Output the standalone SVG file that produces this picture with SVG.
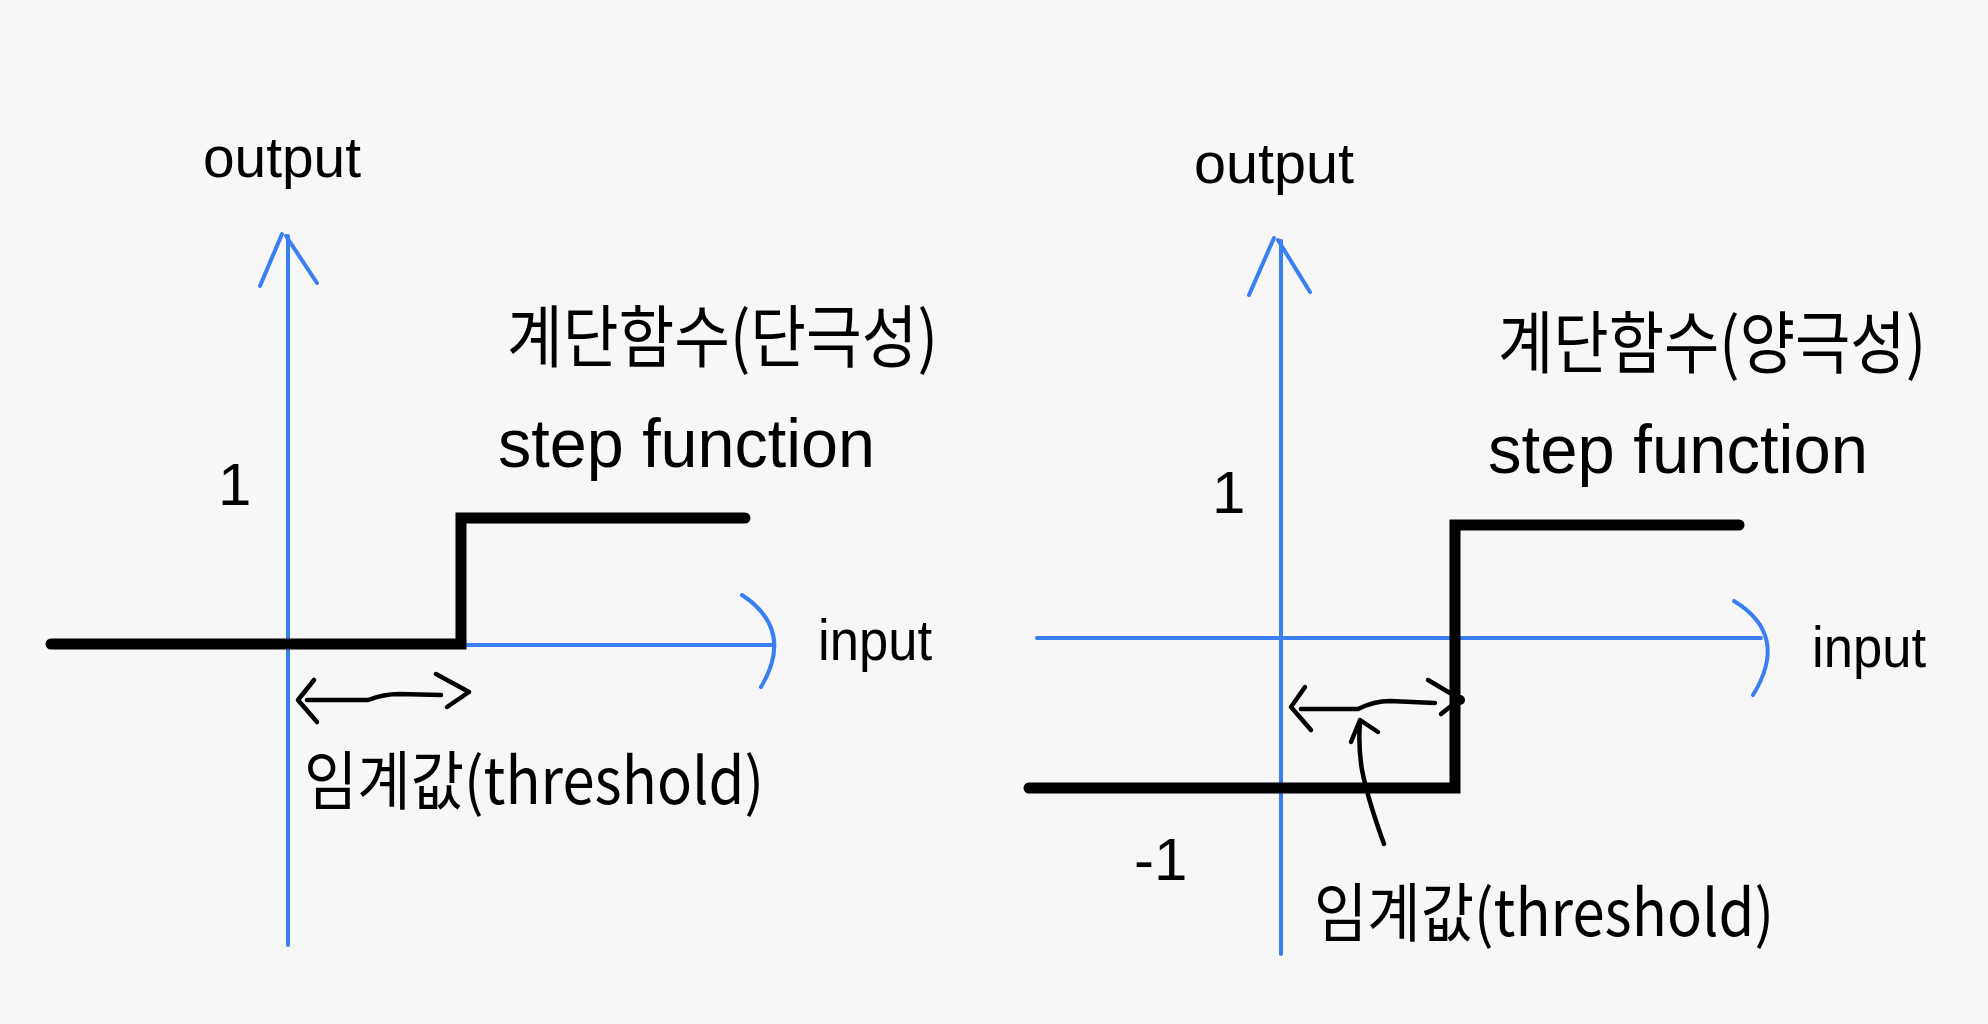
<svg xmlns="http://www.w3.org/2000/svg" width="1988" height="1024" viewBox="0 0 1988 1024">
<style>
.axis{stroke:#3a7ff2;stroke-width:4;fill:none;stroke-linecap:round;stroke-linejoin:round}
.step{stroke:#000;stroke-width:11;fill:none;stroke-linecap:round;stroke-linejoin:miter}
.pen{stroke:#000;stroke-width:4.5;fill:none;stroke-linecap:round;stroke-linejoin:round}
.lat{font-family:"Liberation Sans","Noto Sans",sans-serif;fill:#000}
.kr{font-family:"Noto Sans CJK KR","Noto Sans",sans-serif;fill:#000}
</style>
<rect width="1988" height="1024" fill="#f7f7f7"/>

<g id="left-plot">
  <g id="left-axes">
    <path class="axis" d="M288 236 L288 945"/>
    <path class="axis" d="M260 286 L282 234 M286 236 L317 283"/>
    <path class="axis" d="M463 645 L773 645"/>
    <path class="axis" d="M742 595 Q795 630 761 687"/>
  </g>
  <path id="left-step" class="step" d="M51 644 L461 644 L461 518 L745 518"/>
  <g id="left-threshold-arrow">
    <path class="pen" d="M314 680 L298 700 L317 722"/>
    <path class="pen" d="M307 700 L368 700 Q384 694 399 694 L441 695"/>
    <path class="pen" d="M436 674 L469 692 L447 707"/>
  </g>
  <text class="lat" x="203" y="177" font-size="57" textLength="158" lengthAdjust="spacingAndGlyphs">output</text>
  <text class="lat" x="218" y="505" font-size="60">1</text>
  <text class="kr" x="507" y="362" font-size="68" textLength="431" lengthAdjust="spacingAndGlyphs">계단함수(단극성)</text>
  <text class="lat" x="498" y="467" font-size="68" textLength="377" lengthAdjust="spacingAndGlyphs">step function</text>
  <text class="lat" x="818" y="660" font-size="58" textLength="114" lengthAdjust="spacingAndGlyphs">input</text>
  <text class="kr" x="304" y="804" font-size="64" textLength="460" lengthAdjust="spacingAndGlyphs">임계값(threshold)</text>
</g>

<g id="right-plot">
  <g id="right-axes">
    <path class="axis" d="M1281 241 L1281 954"/>
    <path class="axis" d="M1249 295 L1274 238 M1278 240 L1310 292"/>
    <path class="axis" d="M1037 638 L1761 638"/>
    <path class="axis" d="M1734 601 Q1790 635 1753 695"/>
  </g>
  <path id="right-step" class="step" d="M1029 788 L1455 788 L1455 525 L1739 525"/>
  <g id="right-threshold-arrow">
    <path class="pen" d="M1305 687 L1291 707 L1311 730"/>
    <path class="pen" d="M1301 709 L1358 709 Q1374 701 1390 701 L1435 703"/>
    <path class="pen" d="M1428 680 L1460 699 L1441 714"/>
    <circle cx="1460" cy="700" r="5" fill="#000"/>
  </g>
  <g id="right-pointer">
    <path class="pen" d="M1384 844 Q1368 800 1362 770 Q1358 745 1360 722"/>
    <path class="pen" d="M1351 742 L1360 720 L1378 732"/>
  </g>
  <text class="lat" x="1194" y="183" font-size="57" textLength="160" lengthAdjust="spacingAndGlyphs">output</text>
  <text class="lat" x="1212" y="513" font-size="60">1</text>
  <text class="lat" x="1134" y="880" font-size="60">-1</text>
  <text class="kr" x="1498" y="368" font-size="68" textLength="428" lengthAdjust="spacingAndGlyphs">계단함수(양극성)</text>
  <text class="lat" x="1488" y="473" font-size="68" textLength="380" lengthAdjust="spacingAndGlyphs">step function</text>
  <text class="lat" x="1812" y="667" font-size="58" textLength="114" lengthAdjust="spacingAndGlyphs">input</text>
  <text class="kr" x="1314" y="936" font-size="64" textLength="460" lengthAdjust="spacingAndGlyphs">임계값(threshold)</text>
</g>
</svg>
